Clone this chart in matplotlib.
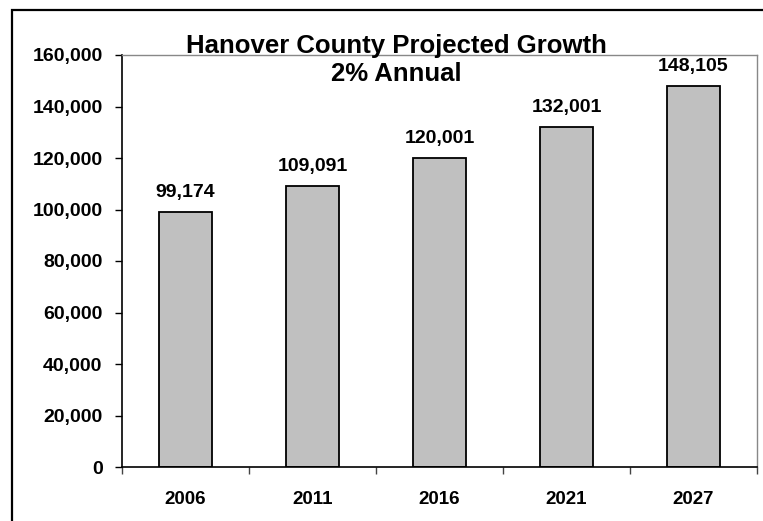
import matplotlib.pyplot as plt
from matplotlib.patches import Rectangle
from matplotlib.ticker import FuncFormatter, FixedLocator

years = ['2006', '2011', '2016', '2021', '2027']
population = [99174, 109091, 120001, 132001, 148105]

plt.rcParams['font.family'] = ['Liberation Sans', 'DejaVu Sans']
plt.rcParams['font.weight'] = 'bold'

fig = plt.figure(figsize=(7.63, 5.21), dpi=100)
ax = fig.add_axes([122 / 763, 1 - 467 / 521, (757 - 122) / 763, (467 - 55) / 521])

x = list(range(len(years)))
bars = ax.bar(x, population, width=0.41, color='#C0C0C0', edgecolor='black', linewidth=1.3)

# value labels above each bar
for xi, v in zip(x, population):
    ax.annotate(f'{v:,}', (xi, v), xytext=(0, 8), textcoords='offset points',
                ha='center', va='bottom', fontsize=14, fontweight='bold')

ax.set_xlim(-0.5, len(years) - 0.5)
ax.set_ylim(0, 160000)
ax.set_yticks(range(0, 160001, 20000))
ax.yaxis.set_major_formatter(FuncFormatter(lambda v, p: f'{int(v):,}'))

# x ticks sit between categories, labels at the centres
ax.xaxis.set_major_locator(FixedLocator([i - 0.5 for i in range(len(years) + 1)]))
ax.xaxis.set_minor_locator(FixedLocator(x))
ax.set_xticklabels([], minor=False)
ax.set_xticklabels(years, minor=True)
ax.tick_params(axis='x', which='major', direction='out', length=5, width=1, color='#444444')
ax.tick_params(axis='x', which='minor', length=0, pad=17, labelsize=13.5)
ax.tick_params(axis='y', direction='out', length=5, width=1, pad=9, labelsize=14)

for side in ['top', 'right']:
    ax.spines[side].set_color('#888888')
    ax.spines[side].set_linewidth(1)
ax.spines['left'].set_linewidth(1.2)
ax.spines['bottom'].set_linewidth(1.2)

fig.text(396 / 763, 1 - 34 / 521, 'Hanover County Projected Growth\n2% Annual',
         ha='center', va='top', fontsize=18.5, fontweight='bold', linespacing=1.2)

# outer chart frame, runs past the right and bottom edges
fig.patches.append(Rectangle((12 / 763, -0.1), 1.2, 1 - 10 / 521 + 0.1,
                             transform=fig.transFigure, fill=False,
                             edgecolor='black', linewidth=1.6))

fig.savefig('out.png', dpi=100)
